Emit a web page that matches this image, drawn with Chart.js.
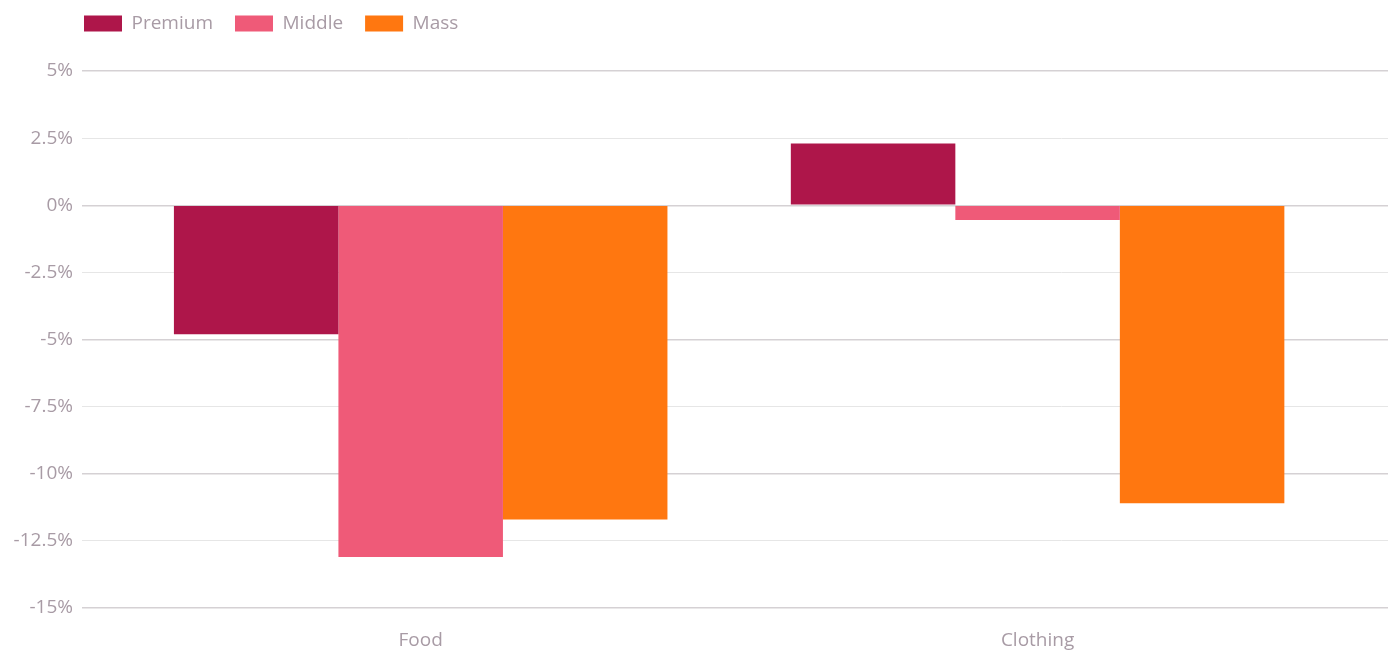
<!DOCTYPE html>
<html>
<head>
<meta charset="utf-8">
<script src="https://cdn.jsdelivr.net/npm/chart.js@4.4.1/dist/chart.umd.min.js"></script>
<style>
  html, body { margin: 0; padding: 0; background: #fff; }
  #wrap { width: 1395px; height: 651px; }
</style>
</head>
<body>
<div id="wrap"><canvas id="segmentChart"></canvas></div>
<script>
const categories = ['Food', 'Clothing'];
const premium = [-4.8, 2.3];
const middle = [-13.1, -0.55];
const mass = [-11.7, -11.1];

const textColor = '#a89ba5';
const majorTicks = [5, 0, -5, -10, -15];
const font = { family: '"Open Sans", sans-serif', size: 19 };

// nudge the legend row up and right so it lines up with the plot
const legendShift = {
  id: 'legendShift',
  afterLayout(chart) {
    const l = chart.legend;
    l.left += 62;
    l.right += 62;
    l.top -= 28;
    l.bottom -= 28;
  }
};

const toPoints = (values) => values.map((v, i) => ({ x: i, y: v }));

const ctx = document.getElementById('segmentChart').getContext('2d');

new Chart(ctx, {
  type: 'bar',
  data: {
    datasets: [
      { label: 'Premium', data: toPoints(premium), backgroundColor: '#ae164a' },
      { label: 'Middle', data: toPoints(middle), backgroundColor: '#ef5a78' },
      { label: 'Mass', data: toPoints(mass), backgroundColor: '#ff7710' }
    ]
  },
  options: {
    responsive: true,
    maintainAspectRatio: false,
    animation: false,
    barPercentage: 1,
    categoryPercentage: 0.8,
    layout: {
      padding: { top: 20, right: 7, bottom: 0, left: 0 }
    },
    plugins: {
      legend: {
        position: 'top',
        align: 'start',
        labels: {
          boxWidth: 38,
          boxHeight: 16,
          padding: 22,
          color: textColor,
          font: font
        }
      },
      tooltip: { enabled: false }
    },
    scales: {
      x: {
        type: 'linear',
        offset: false,
        min: -0.549,
        max: 1.568,
        afterBuildTicks: (scale) => {
          scale.ticks = categories.map((c, i) => ({ value: i }));
        },
        afterFit: (scale) => { scale.height = 43; },
        grid: { display: false, drawTicks: false },
        border: { display: false },
        ticks: {
          padding: 21,
          maxRotation: 0,
          color: textColor,
          font: font,
          callback: (value) => categories[value]
        }
      },
      y: {
        min: -15,
        max: 5,
        afterFit: (scale) => { scale.width = 82; },
        grid: {
          drawTicks: false,
          color: (c) => majorTicks.includes(c.tick.value) ? '#d5d1d4' : '#e6e6e6',
          lineWidth: (c) => majorTicks.includes(c.tick.value) ? 1.5 : 1
        },
        border: { display: false },
        ticks: {
          stepSize: 2.5,
          padding: 9,
          color: textColor,
          font: font,
          callback: (value) => value + '%'
        }
      }
    }
  },
  plugins: [legendShift]
});
</script>
</body>
</html>
